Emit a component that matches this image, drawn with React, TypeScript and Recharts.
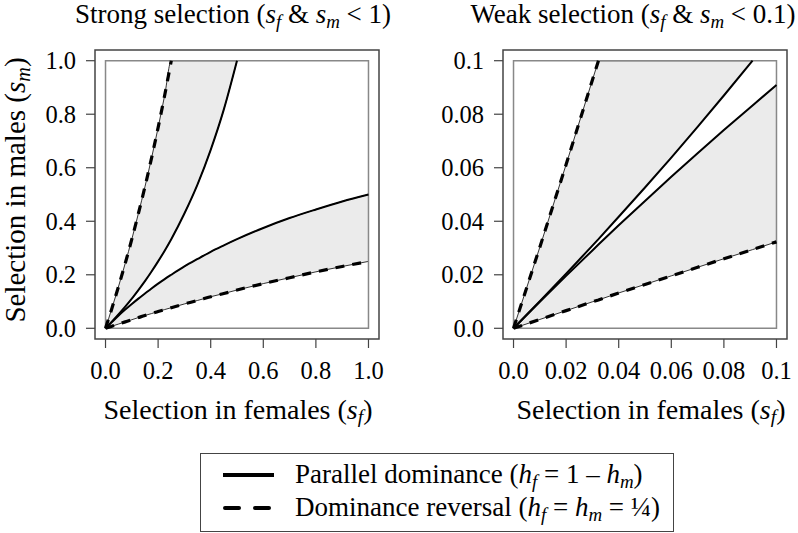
import React from 'react';
import { Area, ComposedChart, Line, ReferenceArea, XAxis, YAxis } from 'recharts';

const FONT = '"Liberation Serif", "Times New Roman", serif';

// strong selection: s_f on x, boundaries of s_m
const strongSf = [0, 0.025, 0.05, 0.075, 0.1, 0.125, 0.15, 0.175, 0.2, 0.225, 0.25, 0.3, 0.35, 0.4, 0.45, 0.5, 0.6, 0.7, 0.8, 0.9, 1.0];
const strongRevUpper = [0, 0.077, 0.158, 0.243, 0.333, 0.429, 0.529, 0.636, 0.75, 0.871, 1.0, null, null, null, null, null, null, null, null, null, null];
const strongParUpper = [0, 0.026, 0.053, 0.081, 0.111, 0.143, 0.176, 0.212, 0.25, 0.29, 0.333, 0.429, 0.538, 0.667, 0.818, 1.0, null, null, null, null, null];
const strongParLower = [0, 0.024, 0.048, 0.07, 0.091, 0.111, 0.13, 0.149, 0.167, 0.184, 0.2, 0.231, 0.259, 0.286, 0.31, 0.333, 0.375, 0.412, 0.444, 0.474, 0.5];
const strongRevLower = [0, 0.008, 0.016, 0.024, 0.032, 0.04, 0.048, 0.055, 0.063, 0.07, 0.077, 0.091, 0.104, 0.118, 0.13, 0.143, 0.167, 0.189, 0.211, 0.231, 0.25];

// weak selection
const weakSf = [0, 0.01, 0.02, 0.03, 0.0323, 0.04, 0.05, 0.06, 0.07, 0.08, 0.0909, 0.1];
const weakRevUpper = [0, 0.0303, 0.0612, 0.0928, 0.1, null, null, null, null, null, null, null];
const weakParUpper = [0, 0.0101, 0.0204, 0.0309, 0.0333, 0.0417, 0.0526, 0.0638, 0.0753, 0.087, 0.1, null];
const weakParLower = [0, 0.0099, 0.0196, 0.0291, 0.0313, 0.0385, 0.0476, 0.0566, 0.0654, 0.0741, 0.0833, 0.0909];
const weakRevLower = [0, 0.0033, 0.0066, 0.0099, 0.0106, 0.0132, 0.0164, 0.0196, 0.0228, 0.026, 0.0294, 0.0323];

const strongTicks = [0, 0.2, 0.4, 0.6, 0.8, 1];
const strongTickLabels = ['0.0', '0.2', '0.4', '0.6', '0.8', '1.0'];
const weakTicks = [0, 0.02, 0.04, 0.06, 0.08, 0.1];
const weakTickLabels = ['0.0', '0.02', '0.04', '0.06', '0.08', '0.1'];

type Num = number | null;

function buildRows(sf: number[], revUp: Num[], parUp: Num[], parLo: number[], revLo: number[], top: number) {
  return sf.map((x, i) => ({
    x,
    revUp: revUp[i],
    parUp: parUp[i],
    parLo: parLo[i],
    revLo: revLo[i],
    upperBand: parUp[i] == null ? null : [parUp[i], revUp[i] ?? top],
    lowerBand: [revLo[i], parLo[i]],
  }));
}

const strongRows = buildRows(strongSf, strongRevUpper, strongParUpper, strongParLower, strongRevLower, 1);
const weakRows = buildRows(weakSf, weakRevUpper, weakParUpper, weakParLower, weakRevLower, 0.1);

const TICK_FONT = 24.5;

function labelFor(ticks: number[], labels: string[], v: number) {
  const i = ticks.findIndex((t) => Math.abs(t - v) < 1e-9);
  return i >= 0 ? labels[i] : String(v);
}

interface PanelProps {
  rows: ReturnType<typeof buildRows>;
  max: number;
  ticks: number[];
  labels: string[];
  width: number;
  marginLeft: number;
  marginRight: number;
  curve: 'monotone' | 'linear';
}

function Panel({ rows, max, ticks, labels, width, marginLeft, marginRight, curve }: PanelProps) {
  const pad = max * 0.04;
  const domain = [-pad, max + pad];
  const XTick = (p: any) => (
    <text x={p.x} y={p.y} dy="0.71em" textAnchor="middle" fontFamily={FONT} fontSize={TICK_FONT} fill="#000">
      {labelFor(ticks, labels, p.payload.value)}
    </text>
  );
  const YTick = (p: any) => (
    <text x={p.x} y={p.y} dy="0.355em" textAnchor="end" fontFamily={FONT} fontSize={TICK_FONT} fill="#000">
      {labelFor(ticks, labels, p.payload.value)}
    </text>
  );
  return (
    <ComposedChart width={width} height={400} data={rows} margin={{ top: 50, right: marginRight, bottom: 21, left: marginLeft }}>
      <XAxis
        type="number"
        dataKey="x"
        domain={domain}
        ticks={ticks}
        allowDataOverflow
        axisLine={false}
        tickLine={{ stroke: '#444', strokeWidth: 1.2 }}
        tickSize={9}
        tickMargin={14}
        height={40}
        tick={XTick}
        interval={0}
      />
      <YAxis
        type="number"
        domain={domain}
        ticks={ticks}
        allowDataOverflow
        axisLine={false}
        tickLine={{ stroke: '#444', strokeWidth: 1.2 }}
        tickSize={9}
        tickMargin={10}
        width={60}
        tick={YTick}
        interval={0}
      />
      <Area dataKey="upperBand" type={curve} fill="#ebebeb" fillOpacity={1} stroke="#000" strokeWidth={0.8} isAnimationActive={false} />
      <Area dataKey="lowerBand" type={curve} fill="#ebebeb" fillOpacity={1} stroke="#000" strokeWidth={0.8} isAnimationActive={false} />
      <ReferenceArea x1={0} x2={max} y1={0} y2={max} fill="none" stroke="#888" strokeWidth={1.5} ifOverflow="visible" />
      <Line dataKey="revUp" type={curve} stroke="#000" strokeWidth={3.2} strokeDasharray="9 8" dot={false} isAnimationActive={false} />
      <Line dataKey="parUp" type={curve} stroke="#000" strokeWidth={2} dot={false} isAnimationActive={false} />
      <Line dataKey="parLo" type={curve} stroke="#000" strokeWidth={2} dot={false} isAnimationActive={false} />
      <Line dataKey="revLo" type={curve} stroke="#000" strokeWidth={3.2} strokeDasharray="9 8" dot={false} isAnimationActive={false} />
      <ReferenceArea x1={-pad} x2={max + pad} y1={-pad} y2={max + pad} fill="none" stroke="#444" strokeWidth={1.5} ifOverflow="visible" />
    </ComposedChart>
  );
}

const subStyle: React.CSSProperties = { fontSize: '0.7em', verticalAlign: '-0.25em', lineHeight: 0 };
const S = ({ sub }: { sub: string }) => (
  <i>
    s<sub style={subStyle}>{sub}</sub>
  </i>
);
const H = ({ sub }: { sub: string }) => (
  <i>
    h<sub style={subStyle}>{sub}</sub>
  </i>
);

const textBase: React.CSSProperties = {
  position: 'absolute',
  fontFamily: FONT,
  fontSize: 27,
  lineHeight: 1.1,
  whiteSpace: 'nowrap',
  color: '#000',
};

export default function App() {
  return (
    <div style={{ position: 'absolute', left: 0, top: 0, width: 798, height: 533, background: '#fff', overflow: 'hidden' }}>
      <div style={{ position: 'absolute', left: 0, top: 0 }}>
        <Panel rows={strongRows} max={1} ticks={strongTicks} labels={strongTickLabels} width={400} marginLeft={35} marginRight={21} curve="monotone" />
      </div>
      <div style={{ position: 'absolute', left: 400, top: 0 }}>
        <Panel rows={weakRows} max={0.1} ticks={weakTicks} labels={weakTickLabels} width={398} marginLeft={43} marginRight={11} curve="linear" />
      </div>

      <div style={{ ...textBase, left: 233, top: 15, transform: 'translate(-50%, -50%)' }}>
        Strong selection (<S sub="f" /> &amp; <S sub="m" /> &lt; 1)
      </div>
      <div style={{ ...textBase, left: 633, top: 15, transform: 'translate(-50%, -50%)' }}>
        Weak selection (<S sub="f" /> &amp; <S sub="m" /> &lt; 0.1)
      </div>

      <div style={{ ...textBase, fontSize: 28, left: 238, top: 410, transform: 'translate(-50%, -50%)' }}>
        Selection in females (<S sub="f" />)
      </div>
      <div style={{ ...textBase, fontSize: 28, left: 651, top: 410, transform: 'translate(-50%, -50%)' }}>
        Selection in females (<S sub="f" />)
      </div>
      <div style={{ ...textBase, fontSize: 29, lineHeight: 1, left: 15, top: 190, transform: 'translate(-50%, -50%) rotate(-90deg)' }}>
        Selection in males (<S sub="m" />)
      </div>

      <div style={{ position: 'absolute', left: 200, top: 453, width: 474, height: 79, border: '1.5px solid #444', boxSizing: 'border-box' }}>
        <svg width={60} height={76} style={{ position: 'absolute', left: 18, top: 0 }}>
          <line x1={4} x2={55} y1={21} y2={21} stroke="#000" strokeWidth={4} />
          <line x1={6} x2={55} y1={54} y2={54} stroke="#000" strokeWidth={4} strokeDasharray="14 16" strokeLinecap="round" />
        </svg>
        <div style={{ ...textBase, left: 94, top: 21, transform: 'translateY(-50%)' }}>
          Parallel dominance (<H sub="f" /> = 1 – <H sub="m" />)
        </div>
        <div style={{ ...textBase, left: 94, top: 54, transform: 'translateY(-50%)' }}>
          Dominance reversal (<H sub="f" /> = <H sub="m" /> = ¼)
        </div>
      </div>
    </div>
  );
}
